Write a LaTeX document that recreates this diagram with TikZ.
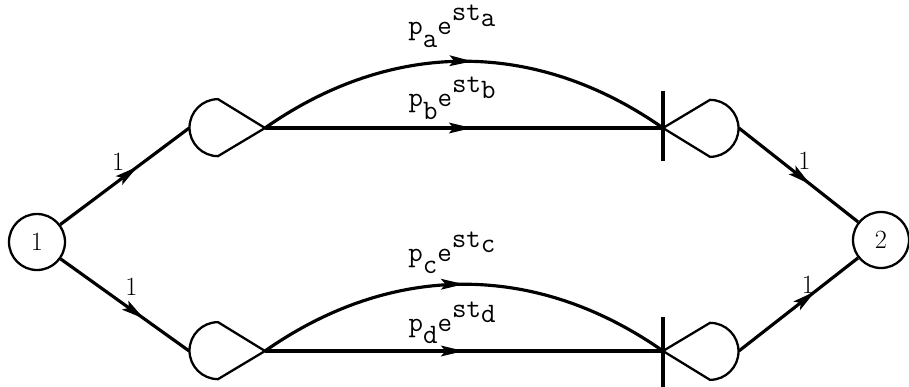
\documentclass[tikz,border=0pt]{standalone}
\usepackage{tikz}
\usetikzlibrary{arrows.meta,decorations.markings,calc}

% branch label p_x e^{st_x} in typewriter style
\newcommand{\brlab}[1]{\ttfamily p\raisebox{-1.05ex}{#1}e\raisebox{1.15ex}{st\raisebox{-0.45ex}{#1}}}

\begin{document}
\begin{tikzpicture}[x=0.02cm,y=0.02cm,>=Stealth,
  state/.style={draw,circle,line width=1.3pt,minimum size=1.12cm,inner sep=0pt,font=\fontsize{15}{15}\selectfont},
  gate/.style={circle,minimum size=1.14cm,inner sep=0pt},
  shp/.style={line width=1.3pt,line join=miter},
  flow/.style={line width=1.8pt},
  midarr/.style={postaction={decorate},decoration={markings,
    mark=at position #1 with {\arrow{Stealth[length=13pt,width=6pt,inset=2.5pt]}}}},
  lab/.style={font=\fontsize{15}{15}\selectfont,inner sep=1pt},
  blab/.style={font=\fontsize{16}{16}\selectfont,inner sep=1pt}]
  \useasboundingbox (0,0) rectangle (909,386);
  % source and sink
  \node[state] (n1) at (37,144) {1};
  \node[state] (n2) at (881,146) {2};
  % left nodes (exclusive-or input, probabilistic output)
  \node[gate] (A) at (218,258) {};
  \node[gate] (C) at (218,35) {};
  \coordinate (Aout) at (265,258);
  \coordinate (Cout) at (265,35);
  \draw[shp] (A.north) arc[start angle=90,end angle=270,radius=0.57cm] -- (Aout) -- cycle;
  \draw[shp] (C.north) arc[start angle=90,end angle=270,radius=0.57cm] -- (Cout) -- cycle;
  % right nodes (and input)
  \node[gate] (B) at (710,258) {};
  \node[gate] (D) at (710,35) {};
  \coordinate (Bin) at (663,258);
  \coordinate (Din) at (663,35);
  \draw[shp] (B.south) arc[start angle=-90,end angle=90,radius=0.57cm] -- (Bin) -- cycle;
  \draw[shp] (D.south) arc[start angle=-90,end angle=90,radius=0.57cm] -- (Din) -- cycle;
  \draw[flow] ($(Bin)+(0,37)$) -- ($(Bin)+(0,-33)$);
  \draw[flow] ($(Din)+(0,34)$) -- ($(Din)+(0,-36)$);
  % unit branches
  \draw[flow,midarr=0.6] (n1) -- node[lab,pos=0.45,above=4pt] {1} (A.west);
  \draw[flow,midarr=0.65] (n1) -- node[lab,pos=0.55,above=6pt] {1} (C.west);
  \draw[flow,midarr=0.6] (B.east) -- node[lab,pos=0.55,above=4pt] {1} (n2);
  \draw[flow,midarr=0.64] (D.east) -- node[lab,pos=0.58,above=0pt] {1} (n2);
  % timed branches
  \draw[flow,midarr=0.52] (Aout) to[bend left=35] node[blab,pos=0.47,above=6pt] {\brlab{a}} (Bin);
  \draw[flow,midarr=0.52] (Aout) -- node[blab,pos=0.47,above=3pt] {\brlab{b}} (Bin);
  \draw[flow,midarr=0.5] (Cout) to[bend left=35] node[blab,pos=0.47,above=4pt] {\brlab{c}} (Din);
  \draw[flow,midarr=0.5] (Cout) -- node[blab,pos=0.47,above=2pt] {\brlab{d}} (Din);
\end{tikzpicture}
\end{document}
